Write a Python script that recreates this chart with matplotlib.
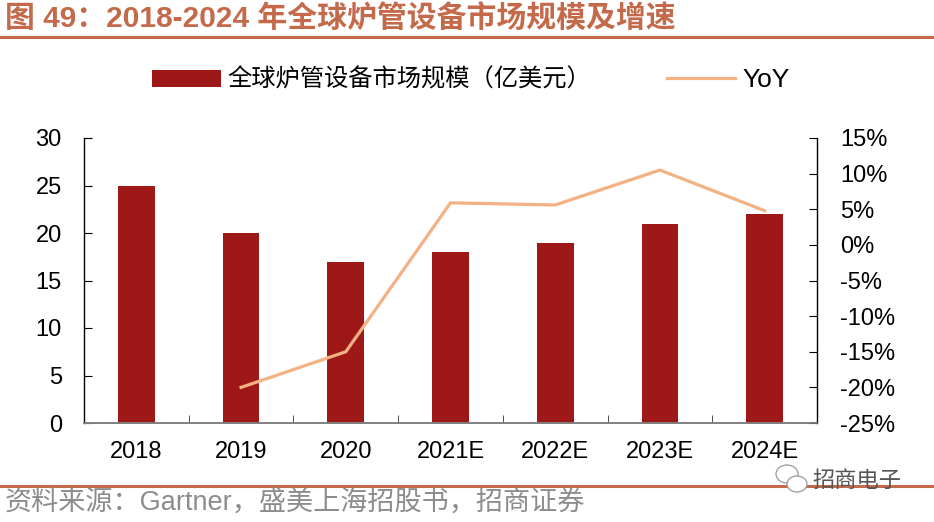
import numpy as np
import matplotlib.pyplot as plt
from matplotlib.lines import Line2D
from matplotlib.patches import Ellipse

plt.rcParams['font.family'] = ['Liberation Sans', 'Noto Sans CJK SC', 'DejaVu Sans']

# 数据
years = ['2018', '2019', '2020', '2021E', '2022E', '2023E', '2024E']
market_size = [25, 20, 17, 18, 19, 21, 22]          # 亿美元
yoy_years = ['2019', '2020', '2021E', '2022E', '2023E', '2024E']
yoy = [-20.0, -15.0, 5.9, 5.6, 10.5, 4.8]           # %

left_ticks = [0, 5, 10, 15, 20, 25, 30]
right_ticks = [-25, -20, -15, -10, -5, 0, 5, 10, 15]

bar_color = '#9E1818'
line_color = '#F4B183'
title_color = '#C46A4B'

fig = plt.figure(figsize=(9.34, 5.22), dpi=100)
ax = fig.add_axes([84 / 934, 1 - 423 / 522, (817 - 84) / 934, (423 - 138) / 522])
ax2 = ax.twinx()

x = np.arange(len(years))
bars = ax.bar(x, market_size, width=0.35, color=bar_color, zorder=2)
ax.set_xlim(-0.5, len(years) - 0.5)
ax.set_ylim(0, 30)
ax.set_yticks(left_ticks)
ax.set_xticks(x)
ax.set_xticklabels(years)
ax.set_xticks(np.arange(len(years) + 1) - 0.5, minor=True)

x_yoy = [years.index(y) for y in yoy_years]
line, = ax2.plot(x_yoy, yoy, color=line_color, lw=2.3, zorder=3)
ax2.set_ylim(-25, 15)
ax2.set_yticks(right_ticks)
ax2.set_yticklabels(['{}%'.format(t) for t in right_ticks])

for a in (ax, ax2):
    a.spines['top'].set_visible(False)
    a.spines['bottom'].set_color('#808080')
    a.spines['bottom'].set_linewidth(1.2)
ax.spines['right'].set_visible(False)
ax2.spines['left'].set_visible(False)
ax2.spines['right'].set_linewidth(1.0)
ax.spines['left'].set_linewidth(1.0)

ax.tick_params(axis='y', direction='in', length=6, labelsize=17, pad=16)
ax2.tick_params(axis='y', direction='in', length=6, labelsize=17, pad=16.5)
ax.tick_params(axis='x', which='major', length=0, labelsize=17, pad=13)
ax.tick_params(axis='x', which='minor', direction='in', length=6, color='#333333')

# 标题
fig.text(5 / 934, 1 - 18 / 522, '图 49：2018-2024 年全球炉管设备市场规模及增速',
         fontsize=21.5, fontweight='bold', color=title_color, va='center', ha='left')
fig.add_artist(Line2D([0, 1], [1 - 37 / 522, 1 - 37 / 522], color=title_color, lw=2.2))

# 图例
handles = [bars, line]
labels = ['全球炉管设备市场规模（亿美元）', 'YoY']
leg = fig.legend(handles, labels, loc='center', bbox_to_anchor=(471 / 934, 1 - 80 / 522),
                 ncol=2, frameon=False, fontsize=17.5, handlelength=2.8, handleheight=0.7,
                 columnspacing=3.1, handletextpad=0.3)
leg.get_texts()[1].set_fontsize(19)

# 底部
fig.add_artist(Line2D([0, 1], [1 - 486 / 522, 1 - 486 / 522], color=title_color, lw=2.2))
fig.text(5 / 934, 1 - 504 / 522, '资料来源：Gartner，盛美上海招股书，招商证券',
         fontsize=19.5, color='#8C8C8C', va='center', ha='left')

# 水印
for cx, cy, w, h in [(787, 474, 22, 18), (797, 484, 20, 16)]:
    fig.add_artist(Ellipse((cx / 934, 1 - cy / 522), w / 934, h / 522,
                           transform=fig.transFigure, facecolor='white',
                           edgecolor='#9A9A9A', lw=0.9, zorder=5))
fig.text(812 / 934, 1 - 481 / 522, '招商电子', fontsize=16, color='#555555',
         va='center', ha='left', zorder=6)

fig.savefig('out.png', dpi=100)
